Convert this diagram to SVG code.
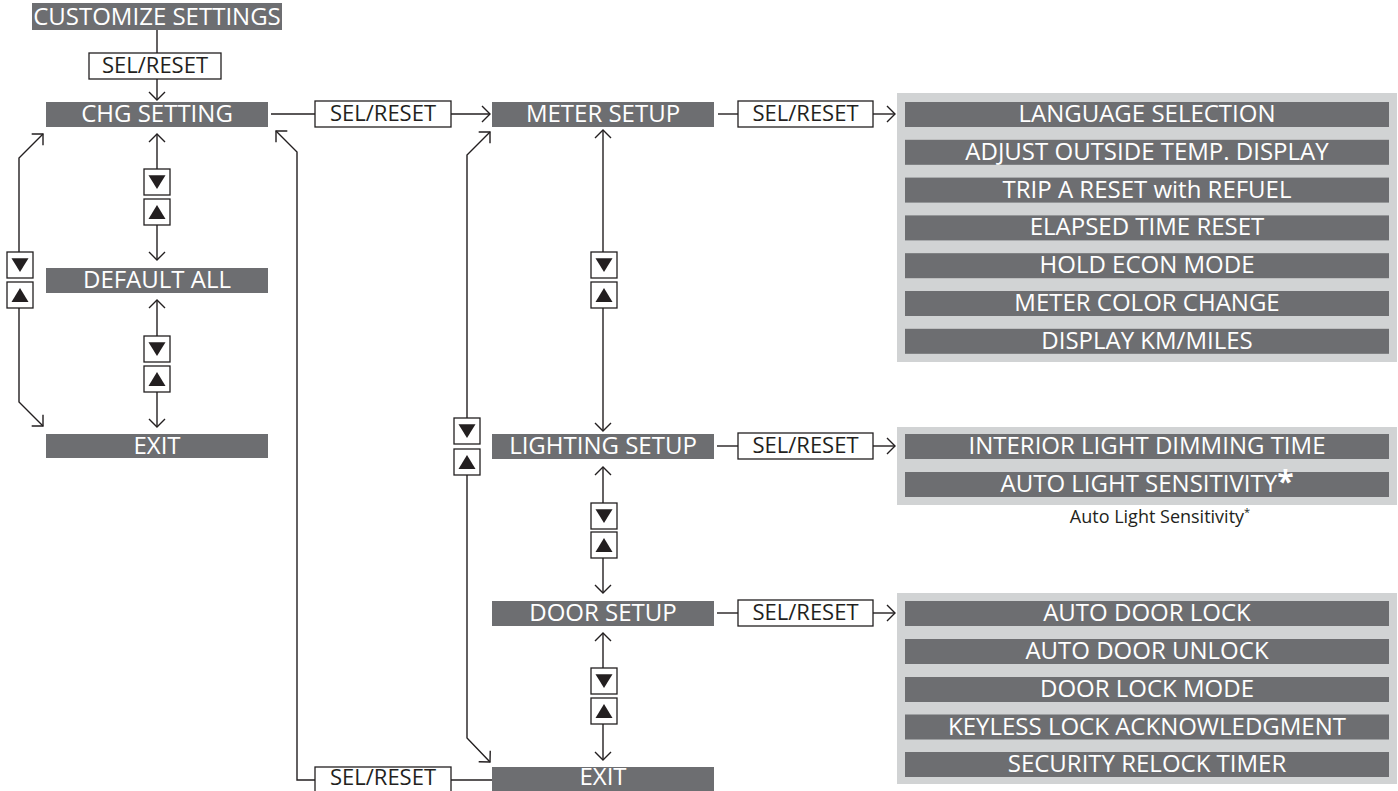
<svg xmlns="http://www.w3.org/2000/svg" xmlns:xlink="http://www.w3.org/1999/xlink" width="1398" height="791" viewBox="0 0 1398 791">
<style>
.bar{fill:#6d6e71}
.panel{fill:#d1d3d4}
.t{font-family:"Open Sans","Liberation Sans",sans-serif;font-size:24px;fill:#ffffff;text-anchor:middle}
.sb{fill:#ffffff;stroke:#231f20;stroke-width:1.3}
.st{font-family:"Open Sans","Liberation Sans",sans-serif;font-size:22px;fill:#231f20;text-anchor:middle}
.ln{fill:none;stroke:#231f20;stroke-width:1.4}
.ar{marker-end:url(#ah)}
.as{marker-start:url(#ah)}
.fn{font-family:"Open Sans","Liberation Sans",sans-serif;font-size:18px;fill:#231f20;text-anchor:middle}
</style>
<defs>
<marker id="ah" markerUnits="userSpaceOnUse" markerWidth="20" markerHeight="20" viewBox="-10 -10 20 20" refX="0" refY="0" orient="auto-start-reverse" overflow="visible">
<path d="M-8,-8 L0,0 L-8,8" fill="none" stroke="#231f20" stroke-width="1.4"/>
</marker>
<g id="kd"><rect x="0" y="0" width="26" height="26" class="sb"/><polygon points="4.5,6.3 21.5,6.3 13,20" fill="#231f20"/></g>
<g id="ku"><rect x="0" y="0" width="26" height="26" class="sb"/><polygon points="13,6 4.5,20 21.5,20" fill="#231f20"/></g>
</defs>
<rect width="1398" height="791" fill="#ffffff"/>

<g id="connectors">
<line class="ln" x1="157" y1="30" x2="157" y2="53"/>
<line class="ln ar" x1="157" y1="79" x2="157" y2="100"/>
<line class="ln" x1="271" y1="114" x2="315" y2="114"/>
<line class="ln ar" x1="451" y1="114" x2="490" y2="114"/>
<line class="ln" x1="718" y1="114" x2="738" y2="114"/>
<line class="ln ar" x1="873" y1="114" x2="895" y2="114"/>
<line class="ln" x1="717" y1="446" x2="738" y2="446"/>
<line class="ln ar" x1="873" y1="446" x2="895" y2="446"/>
<line class="ln" x1="717" y1="613" x2="738" y2="613"/>
<line class="ln ar" x1="873" y1="613" x2="895" y2="613"/>
<line class="ln as" x1="157" y1="134" x2="157" y2="169"/>
<line class="ln ar" x1="157" y1="225" x2="157" y2="260"/>
<line class="ln as" x1="157" y1="300" x2="157" y2="336"/>
<line class="ln ar" x1="157" y1="392" x2="157" y2="427"/>
<path class="ln ar" d="M19,252 L19,158 L43,134"/>
<path class="ln ar" d="M19,308 L19,402 L43,426"/>
<line class="ln as" x1="603" y1="130" x2="603" y2="252"/>
<line class="ln ar" x1="603" y1="308" x2="603" y2="431"/>
<line class="ln as" x1="603" y1="467" x2="603" y2="503"/>
<line class="ln ar" x1="603" y1="558" x2="603" y2="593"/>
<line class="ln as" x1="603" y1="633" x2="603" y2="668"/>
<line class="ln ar" x1="603" y1="724" x2="603" y2="760"/>
<path class="ln ar" d="M467,418 L467,155 L490,132"/>
<path class="ln ar" d="M467,475 L467,738 L490,762"/>
<line class="ln" x1="451" y1="780" x2="492" y2="780"/>
<path class="ln ar" d="M315,780 L297,780 L297,152 L276,131"/>
</g>

<g id="keys">
<use xlink:href="#kd" x="144" y="169"/><use xlink:href="#ku" x="144" y="199"/>
<use xlink:href="#kd" x="144" y="336"/><use xlink:href="#ku" x="144" y="366"/>
<use xlink:href="#kd" x="7" y="252"/><use xlink:href="#ku" x="7" y="282"/>
<use xlink:href="#kd" x="591" y="252"/><use xlink:href="#ku" x="591" y="282"/>
<use xlink:href="#kd" x="591" y="503"/><use xlink:href="#ku" x="591" y="532"/>
<use xlink:href="#kd" x="591" y="668"/><use xlink:href="#ku" x="591" y="698"/>
<use xlink:href="#kd" x="454" y="418"/><use xlink:href="#ku" x="454" y="449"/>
</g>

<g id="sel-buttons">
<g id="sel1"><rect class="sb" x="89" y="53" width="132" height="26"/><text class="st" x="155" y="73">SEL/RESET</text></g>
<g id="sel2"><rect class="sb" x="315" y="101" width="136" height="26"/><text class="st" x="383" y="121">SEL/RESET</text></g>
<g id="sel3"><rect class="sb" x="738" y="101" width="135" height="26"/><text class="st" x="805.5" y="121">SEL/RESET</text></g>
<g id="sel4"><rect class="sb" x="738" y="433" width="135" height="26"/><text class="st" x="805.5" y="453">SEL/RESET</text></g>
<g id="sel5"><rect class="sb" x="738" y="600" width="135" height="26"/><text class="st" x="805.5" y="620">SEL/RESET</text></g>
<g id="sel6"><rect class="sb" x="315" y="767" width="136" height="30"/><text class="st" x="383" y="785">SEL/RESET</text></g>
</g>

<g id="customize"><rect class="bar" x="32" y="3" width="250" height="27"/><text class="t" x="157" y="25">CUSTOMIZE SETTINGS</text></g>
<g id="chg-setting"><rect class="bar" x="46" y="102" width="222" height="25"/><text class="t" x="157" y="122">CHG SETTING</text></g>
<g id="default-all"><rect class="bar" x="46" y="268" width="222" height="25"/><text class="t" x="157" y="288">DEFAULT ALL</text></g>
<g id="exit-left"><rect class="bar" x="46" y="434" width="222" height="24"/><text class="t" x="157" y="454">EXIT</text></g>

<g id="meter-setup"><rect class="bar" x="492" y="102" width="222" height="25"/><text class="t" x="603" y="122">METER SETUP</text></g>
<g id="lighting-setup"><rect class="bar" x="492" y="434" width="222" height="25"/><text class="t" x="603" y="454">LIGHTING SETUP</text></g>
<g id="door-setup"><rect class="bar" x="492" y="601" width="222" height="25"/><text class="t" x="603" y="621">DOOR SETUP</text></g>
<g id="exit-right"><rect class="bar" x="492" y="767" width="222" height="30"/><text class="t" x="603" y="785">EXIT</text></g>

<g id="meter-panel">
<rect class="panel" x="897" y="93" width="500" height="269"/>
<rect class="bar" x="905" y="102" width="484" height="25"/><text class="t" x="1147" y="122">LANGUAGE SELECTION</text>
<rect class="bar" x="905" y="139.8" width="484" height="25"/><text class="t" x="1147" y="159.8">ADJUST OUTSIDE TEMP. DISPLAY</text>
<rect class="bar" x="905" y="177.6" width="484" height="25"/><text class="t" x="1147" y="197.6">TRIP A RESET with REFUEL</text>
<rect class="bar" x="905" y="215.4" width="484" height="25"/><text class="t" x="1147" y="235.4">ELAPSED TIME RESET</text>
<rect class="bar" x="905" y="253.2" width="484" height="25"/><text class="t" x="1147" y="273.2">HOLD ECON MODE</text>
<rect class="bar" x="905" y="291" width="484" height="25"/><text class="t" x="1147" y="311">METER COLOR CHANGE</text>
<rect class="bar" x="905" y="328.8" width="484" height="25"/><text class="t" x="1147" y="348.8">DISPLAY KM/MILES</text>
</g>

<g id="lighting-panel">
<rect class="panel" x="897" y="427" width="500" height="78"/>
<rect class="bar" x="905" y="434" width="484" height="25"/><text class="t" x="1147" y="454">INTERIOR LIGHT DIMMING TIME</text>
<rect class="bar" x="905" y="472" width="484" height="25"/><text class="t" x="1147" y="492">AUTO LIGHT SENSITIVITY<tspan font-size="30" font-weight="bold">*</tspan></text>
</g>
<g id="footnote"><text class="fn" x="1160" y="523">Auto Light Sensitivity<tspan font-size="11" dy="-7">*</tspan></text></g>

<g id="door-panel">
<rect class="panel" x="897" y="593" width="500" height="191"/>
<rect class="bar" x="905" y="601" width="484" height="25"/><text class="t" x="1147" y="621">AUTO DOOR LOCK</text>
<rect class="bar" x="905" y="639" width="484" height="25"/><text class="t" x="1147" y="659">AUTO DOOR UNLOCK</text>
<rect class="bar" x="905" y="677" width="484" height="25"/><text class="t" x="1147" y="697">DOOR LOCK MODE</text>
<rect class="bar" x="905" y="714.5" width="484" height="25"/><text class="t" x="1147" y="734.5">KEYLESS LOCK ACKNOWLEDGMENT</text>
<rect class="bar" x="905" y="752" width="484" height="25"/><text class="t" x="1147" y="772">SECURITY RELOCK TIMER</text>
</g>
</svg>
